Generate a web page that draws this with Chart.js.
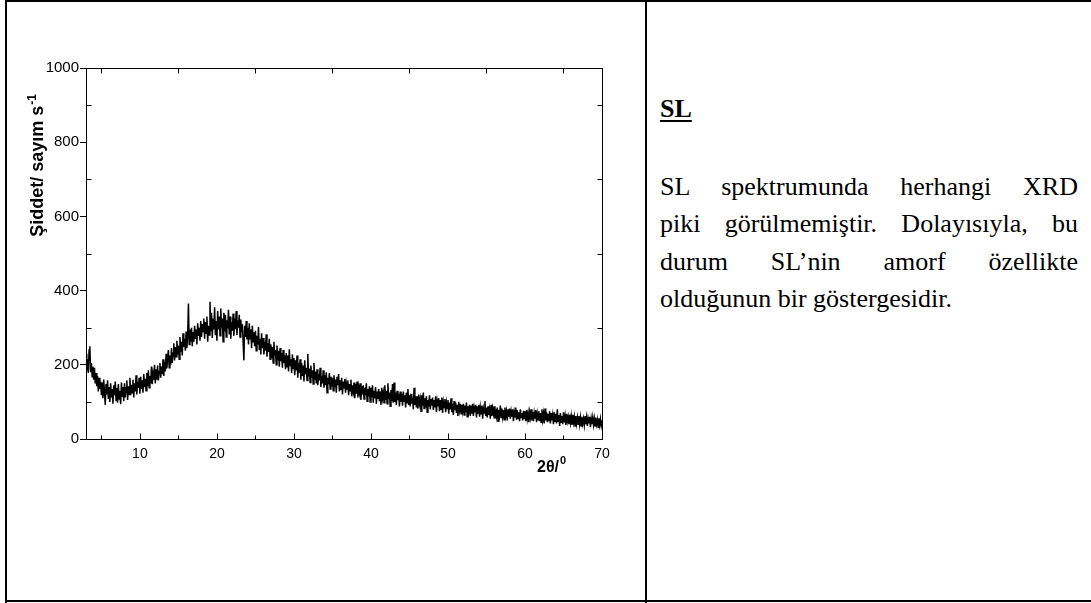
<!DOCTYPE html>
<html>
<head>
<meta charset="utf-8">
<script src="https://cdn.jsdelivr.net/npm/chart.js@4.4.1/dist/chart.umd.min.js"></script>
<style>
  html, body { margin: 0; padding: 0; background: #fff; }
  body { width: 1091px; height: 603px; position: relative; overflow: hidden; }
  #plotCell { position: absolute; left: 0; top: 0; width: 645px; height: 603px; }
  .rule { position: absolute; background: #000; }
  .txt { position: absolute; left: 660px; width: 418px; font-family: 'Liberation Serif', 'Times New Roman', serif;
         font-size: 26px; color: #000; line-height: 37.3px; white-space: nowrap; }
  .just { text-align: justify; text-align-last: justify; white-space: normal; }
  #head { top: 90px; font-weight: bold; text-decoration: underline; text-underline-offset: 3px; }
  #body { top: 168px; }
</style>
</head>
<body>
<div id="plotCell"><canvas id="xrd" width="645" height="603"></canvas></div>

<div class="rule" style="left:5px; top:0; width:1086px; height:2px;"></div>
<div class="rule" style="left:5px; top:0; width:2px; height:603px;"></div>
<div class="rule" style="left:645px; top:0; width:2px; height:603px;"></div>
<div class="rule" style="left:5px; top:600px; width:1086px; height:2px;"></div>

<div id="head" class="txt">SL</div>
<div id="body" class="txt">
  <div class="just">SL spektrumunda herhangi XRD</div>
  <div class="just">piki görülmemiştir. Dolayısıyla, bu</div>
  <div class="just">durum SL’nin amorf özellikte</div>
  <div>olduğunun bir göstergesidir.</div>
</div>

<script>
// Scan grid (degrees 2θ)
const scanStart = 3.0;
const scanStep = 0.1;

// Measured intensity (counts/s), one row per degree
const intensity3to9 = [
  230,185,215,178,240,250,180,205,168,195,
  160,192,150,178,142,170,128,165,135,155,
  118,152,110,160,125,92,148,120,158,108,
  140,100,150,112,135,95,145,118,155,104,
  138,98,148,108,130,94,152,115,140,102,
  150,112,138,158,105,142,120,165,118,146,
  125,160,112,150,128,172,120,155,138,165
];
const intensity10to19 = [
  122,168,135,158,125,175,140,162,130,178,
  142,185,138,170,150,195,148,176,160,200,
  150,188,160,198,158,182,205,165,195,175,
  215,170,208,182,230,190,218,240,192,225,
  200,245,205,232,258,212,248,222,265,228,
  252,215,275,235,262,225,285,248,270,238,
  290,245,278,365,255,295,262,300,250,288,
  262,305,270,295,255,312,278,300,265,318,
  275,310,290,325,270,315,285,330,262,305,
  280,370,290,340,272,325,295,355,280,318
];
const intensity20to29 = [
  265,345,295,330,278,352,300,325,262,340,
  290,335,275,320,298,348,282,330,270,315,
  292,338,278,325,296,345,280,320,300,335,
  275,322,288,310,262,212,305,275,318,268,
  300,255,312,270,295,245,305,262,288,250,
  292,238,278,255,302,240,270,228,285,245,
  272,228,262,238,282,222,258,235,270,215,
  255,218,248,205,262,225,240,200,252,212,
  238,195,245,210,232,192,240,205,225,188,
  232,195,225,182,242,198,215,178,228,190
];
const intensity30to39 = [
  218,172,212,185,225,165,205,178,215,160,
  205,170,198,155,212,175,192,158,230,168,
  190,152,198,165,185,148,205,160,182,150,
  188,145,175,158,192,140,170,150,185,138,
  172,145,180,125,165,148,178,135,168,142,
  165,130,172,140,160,125,168,145,175,128,
  158,132,165,120,155,138,162,125,150,135,
  158,118,148,130,160,115,145,128,152,110,
  148,122,155,112,140,125,150,105,142,120,
  145,108,138,118,150,102,135,115,142,100
];
const intensity40to49 = [
  138,112,145,98,130,110,140,95,128,108,
  135,102,128,92,138,110,125,98,145,105,
  130,95,150,108,125,88,132,102,148,98,
  152,100,125,92,130,105,122,88,128,100,
  122,90,128,102,118,85,125,98,135,92,
  118,88,122,95,112,80,138,92,115,85,
  115,82,120,95,108,75,118,90,125,82,
  110,85,115,72,105,88,118,80,108,90,
  112,78,105,85,115,72,102,88,110,75,
  105,80,112,70,100,85,108,72,98,82
];
const intensity50to59 = [
  105,68,98,80,110,72,95,65,102,78,
  98,70,92,62,100,78,95,68,92,75,
  95,65,90,72,98,60,88,75,92,62,
  90,68,95,62,85,72,92,58,88,70,
  92,60,85,68,90,55,82,70,102,62,
  85,58,88,65,80,55,92,62,82,68,
  88,55,80,62,85,48,78,65,90,58,
  82,60,78,52,85,62,75,50,80,60,
  82,55,75,60,80,48,72,58,85,52,
  78,55,72,48,80,58,70,50,76,55
];
const intensity60to70 = [
  75,48,78,55,70,45,72,58,80,50,
  72,48,70,55,78,45,68,52,75,48,
  70,45,80,52,68,42,82,50,72,45,
  68,48,75,42,70,50,65,40,72,48,
  68,42,80,48,65,35,70,45,62,40,
  72,45,62,38,68,48,60,40,66,45,
  62,38,65,45,60,35,62,42,58,40,
  62,40,58,35,60,42,55,38,62,40,
  58,35,55,42,60,32,55,40,58,38,
  55,35,58,40,52,32,56,38,54,36,
  50
];

// Axis ticks
const xTickLabels = [10, 20, 30, 40, 50, 60, 70];
const xMinorTicks = [5, 15, 25, 35, 45, 55, 65];
const yTickLabels = [0, 200, 400, 600, 800, 1000];
const yMinorTicks = [100, 300, 500, 700, 900];

const xTitle = '2θ/';
const xTitleSup = '0';
const yTitle = 'Şiddet/ sayım s';
const yTitleSup = '-1';

const intensity = [].concat(intensity3to9, intensity10to19, intensity20to29,
  intensity30to39, intensity40to49, intensity50to59, intensity60to70);
const points = intensity.map((v, i) => ({ x: +(scanStart + i * scanStep).toFixed(2), y: v }));

// Frame, inward ticks and axis titles
const framePlugin = {
  id: 'frame',
  afterDraw(chart) {
    const { ctx, chartArea: a, scales: { x, y } } = chart;
    const L = Math.round(a.left) + 0.5, R = Math.round(a.right) + 0.5;
    const T = Math.round(a.top) + 0.5, B = Math.round(a.bottom) + 0.5;
    ctx.save();
    ctx.strokeStyle = '#000';
    ctx.lineWidth = 1;
    ctx.strokeRect(L, T, R - L, B - T);
    ctx.beginPath();
    yMinorTicks.forEach(v => {
      const py = Math.round(y.getPixelForValue(v)) + 0.5;
      ctx.moveTo(L, py); ctx.lineTo(L + 5, py);
      ctx.moveTo(R, py); ctx.lineTo(R - 5, py);
    });
    xMinorTicks.forEach(v => {
      const px = Math.round(x.getPixelForValue(v)) + 0.5;
      ctx.moveTo(px, T); ctx.lineTo(px, T + 5);
      ctx.moveTo(px, B); ctx.lineTo(px, B - 4);
    });
    xTickLabels.forEach(v => {
      if (v >= x.max) return;
      const px = Math.round(x.getPixelForValue(v)) + 0.5;
      ctx.moveTo(px, B); ctx.lineTo(px, B - 6);
    });
    ctx.stroke();

    ctx.fillStyle = '#000';
    // y title, rotated
    ctx.save();
    ctx.translate(43, 166);
    ctx.rotate(-Math.PI / 2);
    ctx.font = 'bold 18px "Liberation Sans", Arial, sans-serif';
    const w1 = ctx.measureText(yTitle).width;
    ctx.font = 'bold 12px "Liberation Sans", Arial, sans-serif';
    const w2 = ctx.measureText(yTitleSup).width;
    const start = -(w1 + w2) / 2;
    ctx.textBaseline = 'alphabetic';
    ctx.textAlign = 'left';
    ctx.font = 'bold 18px "Liberation Sans", Arial, sans-serif';
    ctx.fillText(yTitle, start, 0);
    ctx.font = 'bold 12px "Liberation Sans", Arial, sans-serif';
    ctx.fillText(yTitleSup, start + w1 + 1, -7);
    ctx.restore();

    // x title, below and right of the 60 label
    ctx.textBaseline = 'alphabetic';
    ctx.textAlign = 'left';
    ctx.font = 'bold 16px "Liberation Sans", Arial, sans-serif';
    ctx.fillText(xTitle, 537, 472);
    const xw = ctx.measureText(xTitle).width;
    ctx.font = 'bold 11px "Liberation Sans", Arial, sans-serif';
    ctx.fillText(xTitleSup, 537 + xw + 1, 464);
    ctx.restore();
  }
};

Chart.defaults.font.family = '"Liberation Sans", Arial, sans-serif';
Chart.defaults.color = '#000';

new Chart(document.getElementById('xrd'), {
  type: 'line',
  data: {
    datasets: [{
      data: points,
      borderColor: '#000',
      borderWidth: 1.5,
      pointRadius: 0,
      tension: 0,
      fill: false
    }]
  },
  options: {
    responsive: false,
    animation: false,
    devicePixelRatio: 1,
    layout: { padding: { left: 0, top: 68, right: 43, bottom: 134 } },
    plugins: { legend: { display: false }, tooltip: { enabled: false } },
    scales: {
      x: {
        type: 'linear',
        min: 3, max: 70,
        afterBuildTicks: s => { s.ticks = xTickLabels.map(v => ({ value: v })); },
        afterFit: s => { s.height = 30; },
        grid: { display: false, drawTicks: false },
        border: { display: false },
        ticks: { font: { size: 14 }, padding: 7, maxRotation: 0, autoSkip: false,
                 callback: v => String(v) }
      },
      y: {
        type: 'linear',
        min: 0, max: 1000,
        afterBuildTicks: s => { s.ticks = yTickLabels.map(v => ({ value: v })); },
        afterFit: s => { s.width = 86; },
        grid: { display: true, drawOnChartArea: false, drawTicks: true, tickLength: 6, color: '#000', lineWidth: 1 },
        border: { display: false },
        ticks: { font: { size: 15 }, padding: 1, autoSkip: false, callback: v => String(v) }
      }
    }
  },
  plugins: [framePlugin]
});
</script>
</body>
</html>
